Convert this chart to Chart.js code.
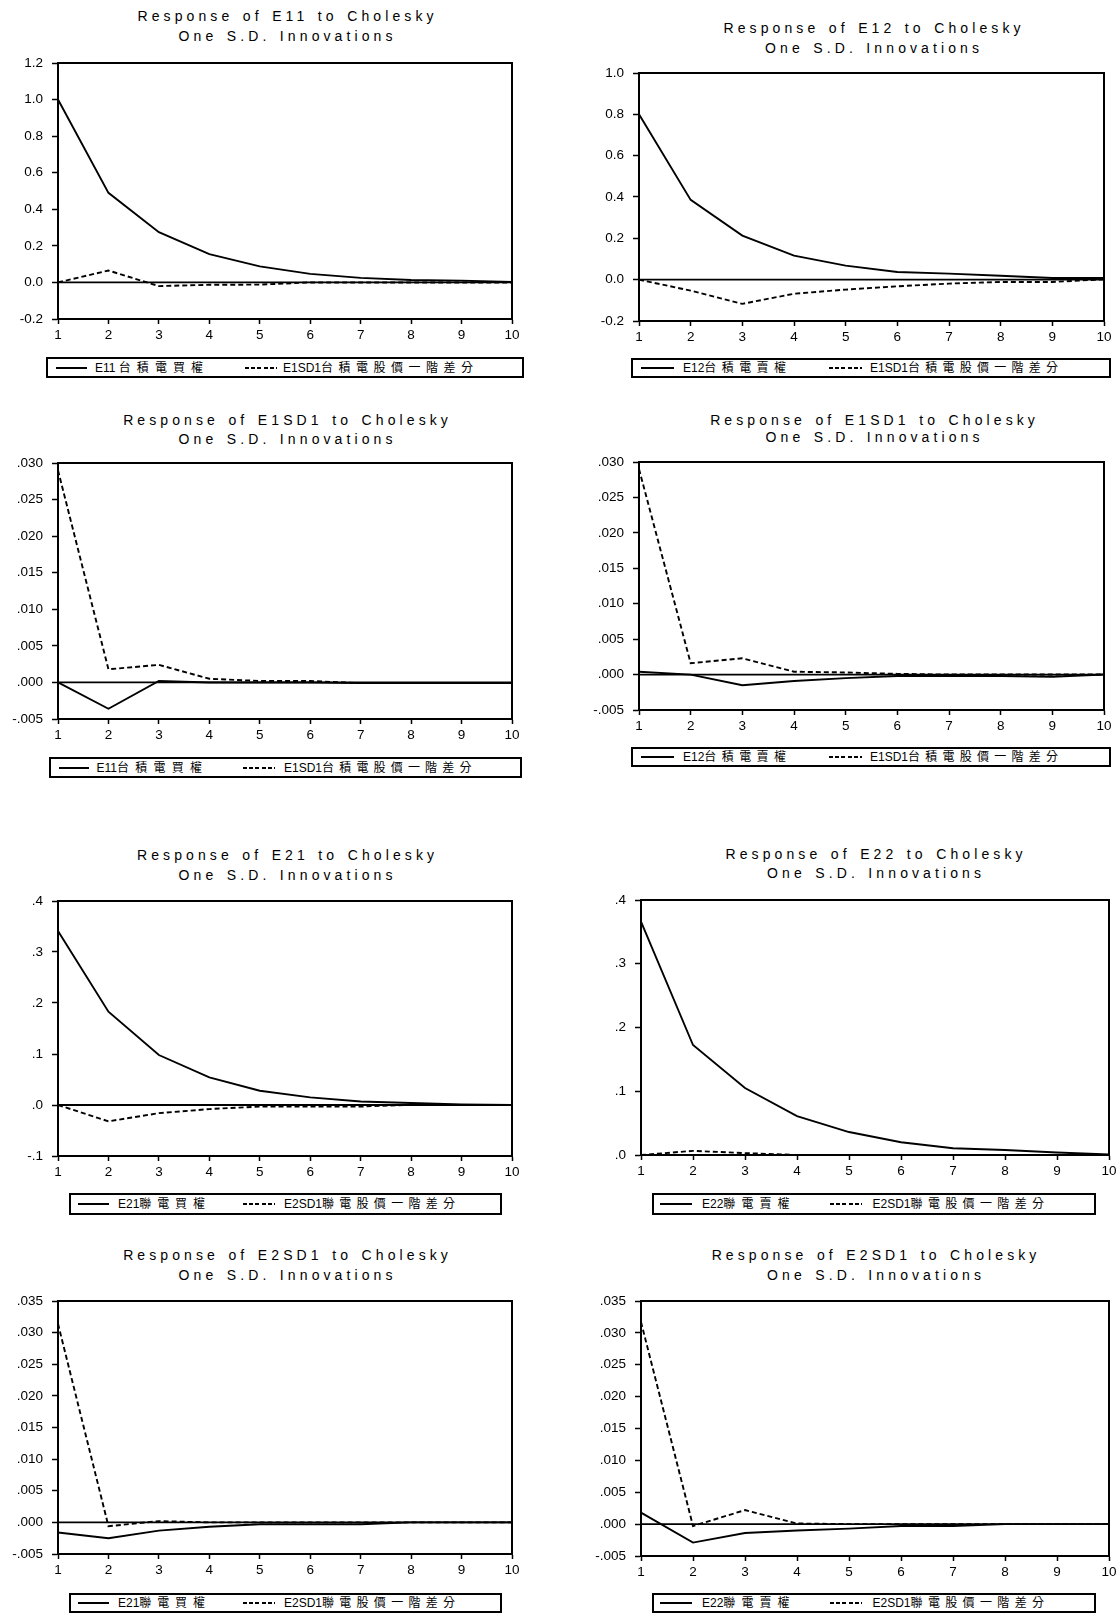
<!DOCTYPE html>
<html>
<head>
<meta charset="utf-8">
<script src="https://cdn.jsdelivr.net/npm/chart.js@4/dist/chart.umd.min.js"></script>
<style>
html,body{margin:0;padding:0;background:#fff;overflow:hidden;}
body{width:1118px;height:1616px;position:relative;font-family:"Liberation Sans",Arial,"Noto Sans CJK TC",sans-serif;color:#000;}
canvas{position:absolute;}
.title{position:absolute;width:600px;text-align:center;font-size:14px;line-height:19px;letter-spacing:4.1px;word-spacing:1.5px;white-space:nowrap;padding-left:4.1px;box-sizing:border-box;}
.legend{position:absolute;border:2px solid #000;box-sizing:border-box;}
.lg-solid,.lg-dash{position:absolute;height:2px;}
.lg-solid{background:#000;}
.lg-dash{background:repeating-linear-gradient(to right,#000 0 4px,transparent 4px 6.2px);}
.lg-text{position:absolute;font-size:12px;line-height:16px;white-space:nowrap;font-family:"Liberation Sans",Arial,"Noto Sans CJK TC",sans-serif;}
</style>
</head>
<body>
<script>
// ---------- DATA ----------
const periods = ["1","2","3","4","5","6","7","8","9","10"];

// Panel 1: Response of E11
const p1Solid = [1.0, 0.49, 0.275, 0.155, 0.088, 0.047, 0.025, 0.013, 0.01, 0.002];
const p1Dash  = [0.0, 0.065, -0.02, -0.013, -0.012, 0.0, 0.0, 0.0, 0.0, 0.0];
// Panel 2: Response of E12
const p2Solid = [0.80, 0.386, 0.213, 0.116, 0.068, 0.037, 0.029, 0.019, 0.008, 0.008];
const p2Dash  = [0.0, -0.053, -0.117, -0.068, -0.048, -0.032, -0.019, -0.011, -0.011, 0.002];
// Panel 3: Response of E1SD1 (with E11)
const p3Solid = [0.0, -0.0036, 0.0002, 0.0, 0.0, 0.0, -0.0001, -0.0001, -0.0001, -0.0001];
const p3Dash  = [0.029, 0.0018, 0.0024, 0.0005, 0.0002, 0.0002, -0.0001, -0.0001, -0.0001, -0.0001];
// Panel 4: Response of E1SD1 (with E12)
const p4Solid = [0.0004, 0.0, -0.0015, -0.0009, -0.0005, -0.0002, -0.0002, -0.0002, -0.0003, 0.0];
const p4Dash  = [0.029, 0.0016, 0.0023, 0.0004, 0.0003, 0.0001, 0.0, 0.0, 0.0, 0.0];
// Panel 5: Response of E21
const p5Solid = [0.341, 0.183, 0.098, 0.054, 0.028, 0.015, 0.007, 0.004, 0.001, 0.0];
const p5Dash  = [0.0, -0.032, -0.016, -0.008, -0.003, -0.003, -0.003, 0.0005, 0.0, 0.0];
// Panel 6: Response of E22
const p6Solid = [0.366, 0.1725, 0.105, 0.061, 0.036, 0.020, 0.0105, 0.0078, 0.004, 0.001];
const p6Dash  = [0.0, 0.0065, 0.003, 0.0, 0.0, 0.0, 0.0, 0.0, 0.0, 0.0];
// Panel 7: Response of E2SD1 (with E21)
const p7Solid = [-0.0016, -0.0025, -0.0013, -0.0007, -0.0003, -0.0003, -0.0003, 0.0, 0.0, 0.0];
const p7Dash  = [0.0314, -0.0006, 0.0002, 0.0, 0.0, 0.0, 0.0, 0.0, 0.0, 0.0];
// Panel 8: Response of E2SD1 (with E22)
const p8Solid = [0.0018, -0.0029, -0.0014, -0.001, -0.0007, -0.0003, -0.0003, 0.0, 0.0, 0.0];
const p8Dash  = [0.0317, -0.0003, 0.0022, 0.0001, 0.0, 0.0, 0.0, 0.0, 0.0, 0.0];

// Y tick values and labels
const ticksP1 = [-0.2, 0.0, 0.2, 0.4, 0.6, 0.8, 1.0, 1.2];
const labelsP1 = ["-0.2","0.0","0.2","0.4","0.6","0.8","1.0","1.2"];
const ticksP2 = [-0.2, 0.0, 0.2, 0.4, 0.6, 0.8, 1.0];
const labelsP2 = ["-0.2","0.0","0.2","0.4","0.6","0.8","1.0"];
const ticksP34 = [-0.005, 0.0, 0.005, 0.010, 0.015, 0.020, 0.025, 0.030];
const labelsP34 = ["-.005",".000",".005",".010",".015",".020",".025",".030"];
const ticksP5 = [-0.1, 0.0, 0.1, 0.2, 0.3, 0.4];
const labelsP5 = ["-.1",".0",".1",".2",".3",".4"];
const ticksP6 = [0.0, 0.1, 0.2, 0.3, 0.4];
const labelsP6 = [".0",".1",".2",".3",".4"];
const ticksP78 = [-0.005, 0.0, 0.005, 0.010, 0.015, 0.020, 0.025, 0.030, 0.035];
const labelsP78 = ["-.005",".000",".005",".010",".015",".020",".025",".030",".035"];

// Titles and series names
const titleLine2 = "One S.D. Innovations";
const titles = ["Response of E11 to Cholesky","Response of E12 to Cholesky","Response of E1SD1 to Cholesky","Response of E1SD1 to Cholesky","Response of E21 to Cholesky","Response of E22 to Cholesky","Response of E2SD1 to Cholesky","Response of E2SD1 to Cholesky"];
const solidNames = ["E11 台積電買權","E12台積電賣權","E11台積電買權","E12台積電賣權","E21聯電買權","E22聯電賣權","E21聯電買權","E22聯電賣權"];
const dashNames = ["E1SD1台積電股價一階差分","E1SD1台積電股價一階差分","E1SD1台積電股價一階差分","E1SD1台積電股價一階差分","E2SD1聯電股價一階差分","E2SD1聯電股價一階差分","E2SD1聯電股價一階差分","E2SD1聯電股價一階差分"];

// ---------- LAYOUT ----------
const FONT = '"Liberation Sans", Arial, sans-serif';
const TICK_SIZE = 13.5;
const panels = [
  {solid:p1Solid, dash:p1Dash, ticks:ticksP1, labels:labelsP1, l:58, r:512, t:63, b:319, cx:285.5, ty:[16.7,36],
   lg:{x1:46,x2:524,y1:357,y2:378,s1:[56,87],t1:[95,203],s2:[245,277],t2:[283,473]}},
  {solid:p2Solid, dash:p2Dash, ticks:ticksP2, labels:labelsP2, l:639, r:1104, t:73, b:321, cx:872, ty:[28.3,48.3],
   lg:{x1:631,x2:1111,y1:358,y2:378,s1:[641,674],t1:[683,786],s2:[829,862],t2:[870,1058]}},
  {solid:p3Solid, dash:p3Dash, ticks:ticksP34, labels:labelsP34, l:58, r:512, t:463, b:719, cx:285.5, ty:[420,439.3],
   lg:{x1:49,x2:522,y1:757,y2:778,s1:[59,89],t1:[96.5,202],s2:[243,275],t2:[284,471.5]}},
  {solid:p4Solid, dash:p4Dash, ticks:ticksP34, labels:labelsP34, l:639, r:1104, t:462, b:710, cx:872.5, ty:[420,437.7],
   lg:{x1:631,x2:1111,y1:747,y2:767,s1:[641,674],t1:[683,786],s2:[829,862],t2:[870,1058]}},
  {solid:p5Solid, dash:p5Dash, ticks:ticksP5, labels:labelsP5, l:58, r:512, t:901, b:1156, cx:285.5, ty:[855.7,875],
   lg:{x1:69,x2:502,y1:1193,y2:1215,s1:[78,109],t1:[118,205],s2:[243,275],t2:[284,455]}},
  {solid:p6Solid, dash:p6Dash, ticks:ticksP6, labels:labelsP6, l:641, r:1109, t:900, b:1155, cx:874, ty:[854,873.3],
   lg:{x1:652,x2:1096,y1:1193,y2:1215,s1:[660,692],t1:[702,789.5],s2:[830,862],t2:[872.5,1044]}},
  {solid:p7Solid, dash:p7Dash, ticks:ticksP78, labels:labelsP78, l:58, r:512, t:1301, b:1554, cx:285.5, ty:[1255.7,1275],
   lg:{x1:69,x2:502,y1:1593,y2:1613,s1:[78,109],t1:[118,205],s2:[243,275],t2:[284,455]}},
  {solid:p8Solid, dash:p8Dash, ticks:ticksP78, labels:labelsP78, l:641, r:1109, t:1301, b:1556, cx:874, ty:[1255.7,1275],
   lg:{x1:652,x2:1096,y1:1593,y2:1613,s1:[660,692],t1:[702,789.5],s2:[830,862],t2:[872.5,1044]}}
];

const framePlugin = {
  id:'frame',
  beforeDatasetsDraw(chart){
    const {ctx, chartArea:a, scales} = chart;
    const y0 = scales.y.getPixelForValue(0);
    ctx.save();
    ctx.strokeStyle = '#000'; ctx.lineWidth = 1.8;
    ctx.beginPath(); ctx.moveTo(a.left, y0); ctx.lineTo(a.right, y0); ctx.stroke();
    ctx.restore();
  },
  afterDraw(chart){
    const {ctx, chartArea:a} = chart;
    ctx.save();
    ctx.strokeStyle = '#000'; ctx.lineWidth = 2;
    ctx.strokeRect(a.left, a.top, a.right - a.left, a.bottom - a.top);
    ctx.restore();
  }
};

function addDiv(cls, css, text){
  const d = document.createElement('div');
  d.className = cls;
  Object.assign(d.style, css);
  if (text !== undefined) d.textContent = text;
  document.body.appendChild(d);
  return d;
}

// Legend text: Latin prefix at natural width, CJK part letter-spaced to reach the measured end
function addLegendText(x0, x1, cy, name){
  const m = name.match(/^([\x00-\x7f]*)(.*)$/);
  const d = addDiv('lg-text', {left:x0+'px', top:(cy-8)+'px'});
  const lat = document.createElement('span');
  lat.textContent = m[1];
  d.appendChild(lat);
  const cjk = document.createElement('span');
  cjk.textContent = m[2];
  d.appendChild(cjk);
  const lw = lat.getBoundingClientRect().width;
  const cw = cjk.getBoundingClientRect().width;
  const n = Array.from(m[2]).length;
  const ls = n > 1 ? Math.max(0, ((x1 - x0) - lw - cw) / (n - 1)) : 0;
  cjk.style.letterSpacing = ls + 'px';
  cjk.style.marginRight = (-ls) + 'px';
}

function buildConfig(p, idx, pad){
  return {
    type:'line',
    data:{
      labels:periods,
      datasets:[
        {label:solidNames[idx], data:p.solid, borderColor:'#000', borderWidth:1.9, pointRadius:0, tension:0, fill:false},
        {label:dashNames[idx], data:p.dash, borderColor:'#000', borderWidth:1.9, borderDash:[5,3], pointRadius:0, tension:0, fill:false}
      ]
    },
    options:{
      responsive:false, animation:false, devicePixelRatio:1,
      layout:{padding:pad},
      plugins:{legend:{display:false}, title:{display:false}, tooltip:{enabled:false}},
      scales:{
        x:{
          type:'category', offset:false,
          grid:{display:true, drawOnChartArea:false, drawTicks:true, tickLength:5, color:'#000', tickWidth:1.5},
          border:{display:true, color:'#000', width:2},
          ticks:{color:'#000', font:{family:FONT, size:TICK_SIZE}, padding:3, maxRotation:0, autoSkip:false},
          afterFit:s => { s.height = 30; }
        },
        y:{
          type:'linear', min:p.ticks[0], max:p.ticks[p.ticks.length-1],
          afterBuildTicks:a => { a.ticks = p.ticks.map(v => ({value:v})); },
          grid:{display:true, drawOnChartArea:false, drawTicks:true, tickLength:6, color:'#000', tickWidth:1.5},
          border:{display:true, color:'#000', width:2},
          ticks:{color:'#000', font:{family:FONT, size:TICK_SIZE}, padding:9, autoSkip:false, callback:(v,i) => p.labels[i]},
          afterFit:s => { s.width = 56; }
        }
      }
    },
    plugins:[framePlugin]
  };
}

panels.forEach((p, idx) => {
  // titles
  addDiv('title', {left:(p.cx-300)+'px', top:(p.ty[0]-9.5)+'px'}, titles[idx]);
  addDiv('title', {left:(p.cx-300)+'px', top:(p.ty[1]-9.5)+'px'}, titleLine2);

  // chart: measure gutters first, then place canvas so the plot area lands where intended
  const pad = {left:0, top:24, right:24, bottom:0};
  let W = (p.r - p.l) + 56 + 24, H = (p.b - p.t) + 24 + 30;
  const cv = document.createElement('canvas');
  cv.width = W; cv.height = H;
  cv.style.width = W + 'px'; cv.style.height = H + 'px';
  document.body.appendChild(cv);
  let chart = new Chart(cv, buildConfig(p, idx, pad));
  const a = chart.chartArea;
  const gl = a.left, gt = a.top, gr = W - a.right, gb = H - a.bottom;
  chart.destroy();
  W = Math.round(gl + (p.r - p.l) + gr);
  H = Math.round(gt + (p.b - p.t) + gb);
  cv.width = W; cv.height = H;
  cv.style.width = W + 'px'; cv.style.height = H + 'px';
  cv.style.left = (p.l - gl) + 'px'; cv.style.top = (p.t - gt) + 'px';
  chart = new Chart(cv, buildConfig(p, idx, pad));

  // legend
  const L = p.lg;
  const cy = (L.y1 + L.y2) / 2;
  addDiv('legend', {left:L.x1+'px', top:L.y1+'px', width:(L.x2-L.x1)+'px', height:(L.y2-L.y1)+'px'});
  addDiv('lg-solid', {left:L.s1[0]+'px', width:(L.s1[1]-L.s1[0])+'px', top:(cy-1)+'px'});
  addLegendText(L.t1[0], L.t1[1], cy, solidNames[idx]);
  addDiv('lg-dash', {left:L.s2[0]+'px', width:(L.s2[1]-L.s2[0])+'px', top:(cy-1)+'px'});
  addLegendText(L.t2[0], L.t2[1], cy, dashNames[idx]);
});
</script>
</body>
</html>
